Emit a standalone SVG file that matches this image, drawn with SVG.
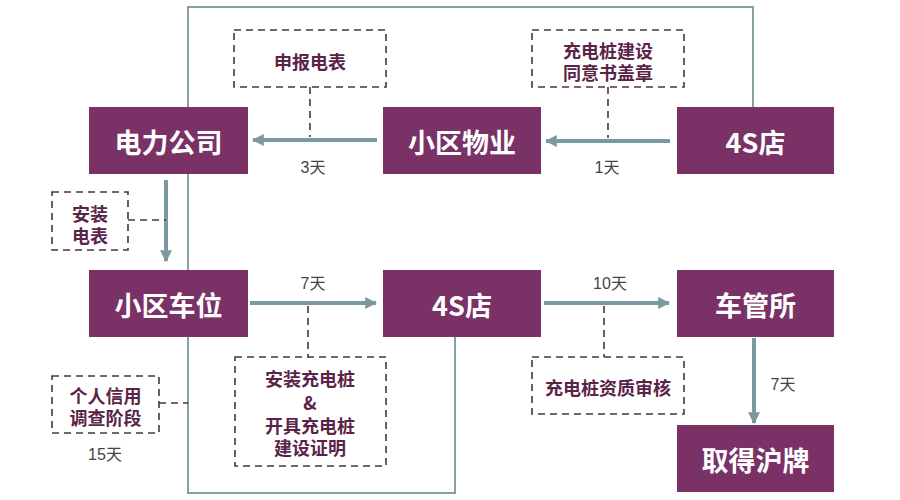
<svg xmlns="http://www.w3.org/2000/svg" width="900" height="500" viewBox="0 0 900 500">
<defs>
<marker id="ah" viewBox="0 0 10 10" refX="9" refY="5" markerWidth="3" markerHeight="3.2" orient="auto" markerUnits="strokeWidth">
<path d="M0,0 L10,5 L0,10 z" fill="#7b9aa0"/>
</marker>
<style>
.node rect{fill:#7a3266}
.node text{fill:#fff;font-family:"Noto Sans CJK SC","Noto Sans",sans-serif;font-weight:bold;font-size:27px;text-anchor:middle;dominant-baseline:central}
.note rect{fill:none;stroke:#4a3540;stroke-width:1.6;stroke-dasharray:7,5}
.note text{fill:#5a2448;font-family:"Noto Sans CJK SC","Noto Sans",sans-serif;font-weight:bold;font-size:18px;text-anchor:middle;dominant-baseline:central}
.arrow{stroke:#7b9aa0;stroke-width:4;fill:none;marker-end:url(#ah)}
.frame{stroke:#88a0a5;stroke-width:2;fill:none}
.dash{stroke:#4a3540;stroke-width:1.6;stroke-dasharray:7,5;fill:none}
.day{fill:#444;font-family:"Liberation Sans","Noto Sans CJK SC",sans-serif;font-size:16px;text-anchor:middle;dominant-baseline:central}
</style>
</defs>
<rect width="900" height="500" fill="#fff"/>
<g id="connectors">
<path class="frame" d="M753,107 V7 H188 V493 H455 V337"/>
<line class="arrow" x1="377" y1="140" x2="253" y2="140"/>
<line class="arrow" x1="670" y1="141" x2="546" y2="141"/>
<line class="arrow" x1="166" y1="180" x2="166" y2="261"/>
<line class="arrow" x1="250" y1="303" x2="376" y2="303"/>
<line class="arrow" x1="544" y1="303" x2="669" y2="303"/>
<line class="arrow" x1="754" y1="338" x2="754" y2="423"/>
<path class="dash" d="M310,87 V137"/>
<path class="dash" d="M608,87 V138"/>
<path class="dash" d="M128,220 H166"/>
<path class="dash" d="M159,403 H188"/>
<path class="dash" d="M308,306 V357"/>
<path class="dash" d="M604,306 V357"/>
<text class="day" x="313" y="167">3天</text>
<text class="day" x="607" y="167">1天</text>
<text class="day" x="313" y="283">7天</text>
<text class="day" x="610" y="283">10天</text>
<text class="day" x="783" y="384">7天</text>
<text class="day" x="105" y="454">15天</text>
</g>
<g id="n-dianli" class="node"><rect x="89" y="107" width="159" height="67"/><text x="168.5" y="141">电力公司</text></g>
<g id="n-wuye" class="node"><rect x="383" y="107" width="158" height="67"/><text x="462" y="141">小区物业</text></g>
<g id="n-4s-top" class="node"><rect x="677" y="107" width="157" height="67"/><text x="755.5" y="141">4S店</text></g>
<g id="n-chewei" class="node"><rect x="89" y="270" width="159" height="67"/><text x="168.5" y="304">小区车位</text></g>
<g id="n-4s-mid" class="node"><rect x="383" y="270" width="158" height="67"/><text x="462" y="304">4S店</text></g>
<g id="n-cheguan" class="node"><rect x="677" y="270" width="157" height="67"/><text x="755.5" y="304">车管所</text></g>
<g id="n-hupai" class="node"><rect x="677" y="425" width="157" height="67"/><text x="755.5" y="459">取得沪牌</text></g>
<g id="note-shenbao" class="note"><rect x="234" y="30" width="152" height="57"/><text x="310" y="61">申报电表</text></g>
<g id="note-tongyi" class="note"><rect x="532" y="30" width="152" height="57"/><text x="608" y="50">充电桩建设</text><text x="608" y="72">同意书盖章</text></g>
<g id="note-anzhuang" class="note"><rect x="52" y="192" width="76" height="58"/><text x="90" y="213">安装</text><text x="90" y="235">电表</text></g>
<g id="note-xinyong" class="note"><rect x="52" y="376" width="107" height="57"/><text x="105.5" y="395">个人信用</text><text x="105.5" y="417">调查阶段</text></g>
<g id="note-zhuang" class="note"><rect x="235" y="357" width="151" height="109"/><text x="310" y="378">安装充电桩</text><text x="310" y="402">&amp;</text><text x="310" y="425">开具充电桩</text><text x="310" y="447">建设证明</text></g>
<g id="note-zizhi" class="note"><rect x="532" y="357" width="152" height="57"/><text x="608" y="387">充电桩资质审核</text></g>
</svg>
